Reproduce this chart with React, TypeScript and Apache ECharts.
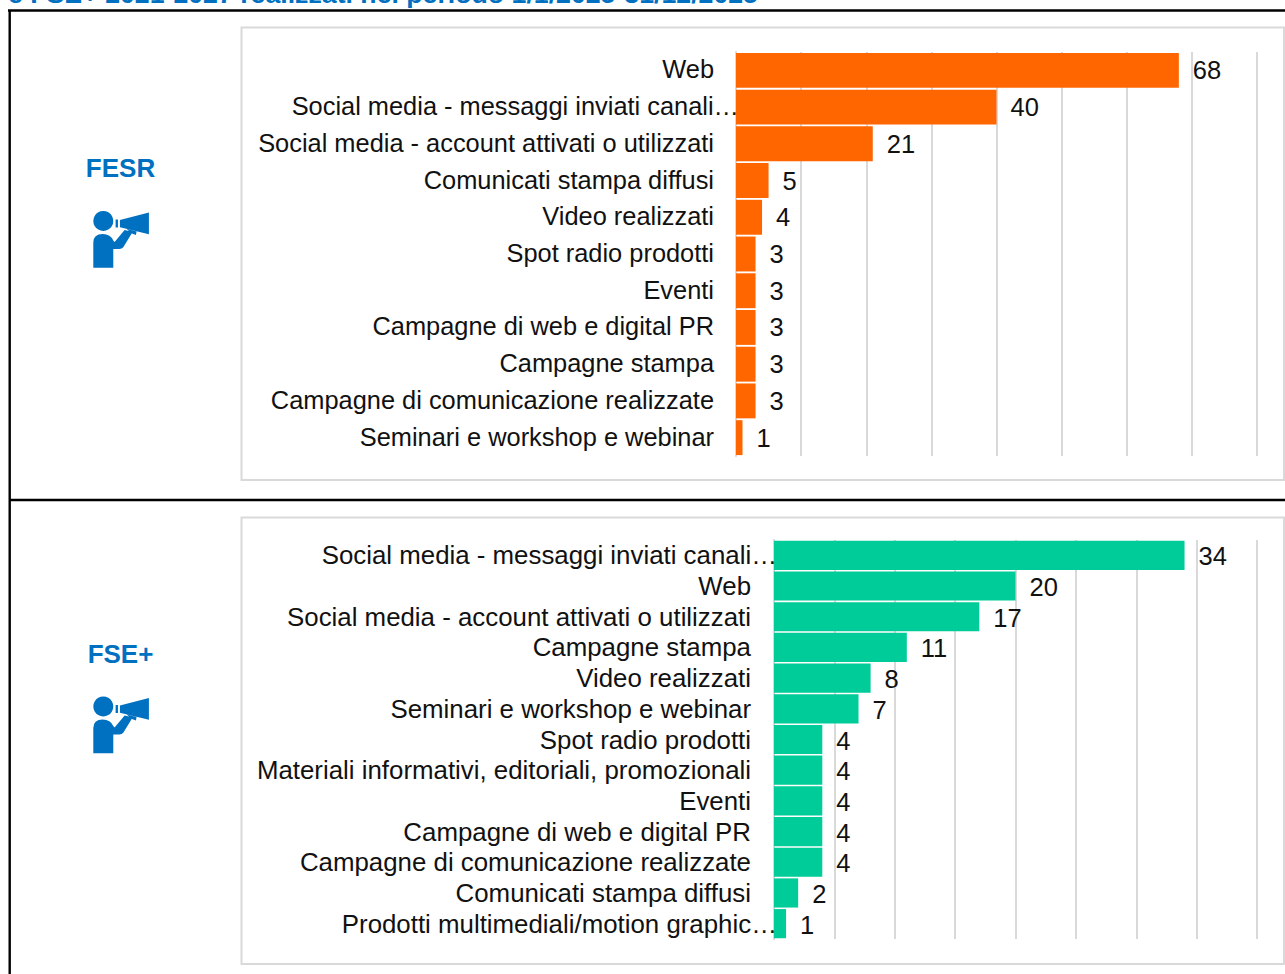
import React, { useEffect, useRef } from "react";
import * as echarts from "echarts";

const pageTitle = "e FSE+ 2021-2027 realizzati nel periodo 1/1/2025-31/12/2025";

const fesrCategories = [
  "Web",
  "Social media - messaggi inviati canali…",
  "Social media - account attivati o utilizzati",
  "Comunicati stampa diffusi",
  "Video realizzati",
  "Spot radio prodotti",
  "Eventi",
  "Campagne di web e digital PR",
  "Campagne stampa",
  "Campagne di comunicazione realizzate",
  "Seminari e workshop e webinar",
];
const fesrValues = [68, 40, 21, 5, 4, 3, 3, 3, 3, 3, 1];

const fseCategories = [
  "Social media - messaggi inviati canali…",
  "Web",
  "Social media - account attivati o utilizzati",
  "Campagne stampa",
  "Video realizzati",
  "Seminari e workshop e webinar",
  "Spot radio prodotti",
  "Materiali informativi, editoriali, promozionali",
  "Eventi",
  "Campagne di web e digital PR",
  "Campagne di comunicazione realizzate",
  "Comunicati stampa diffusi",
  "Prodotti multimediali/motion graphic…",
];
const fseValues = [34, 20, 17, 11, 8, 7, 4, 4, 4, 4, 4, 2, 1];

const BLUE = "#0070C0";
const GRID_GREY = "#D9D9D9";
const FONT = '"Liberation Sans", Arial, sans-serif';

// Person with a megaphone, in a 3x drawing space
const megaphoneIcon =
  "M130 213 a30 30 0 1 0 0.01 0 Z " +
  "M100 384 L100 308 Q100 282 128 282 Q152 282 160 302 L164 306 L194 270 L218 276 L190 322 Q186 327 178 327 L160 327 L160 384 Z " +
  "M167 239 L174 239 L174 263 L167 263 Z " +
  "M180 240 L267 218 L267 283 L180 262 Z " +
  "M200 267 L230 275 L228 285 L216 281 Z";

echarts.graphic.registerShape(
  "megaphone",
  echarts.graphic.extendPath(megaphoneIcon, {}) as any
);

// Long names end in "…" and run up to the axis; the rest keep a gap before it
const axisLabelFormatter = (value: string) =>
  value.endsWith("…") ? `{t|${value}}` : `{t|${value}}{g|}`;

const panel = (x: number, y: number, width: number, height: number) => ({
  type: "rect",
  shape: { x, y, width, height },
  style: { fill: "#fff", stroke: GRID_GREY, lineWidth: 2 },
  silent: true,
  z: -1,
});

const rule = (x1: number, y1: number, x2: number, y2: number) => ({
  type: "line",
  shape: { x1, y1, x2, y2 },
  style: { stroke: "#000", lineWidth: 2.4 },
  silent: true,
});

const heading = (text: string, y: number) => ({
  type: "text",
  x: 120.5,
  y,
  style: {
    text,
    fill: BLUE,
    font: `bold 26px ${FONT}`,
    align: "center",
    verticalAlign: "middle",
  },
});

const icon = (dy: number) => ({
  type: "megaphone",
  x: 60,
  y: 140 + dy,
  scaleX: 1 / 3,
  scaleY: 1 / 3,
  style: { fill: BLUE },
});

const yAxis = (
  gridIndex: number,
  data: string[],
  size: number,
  gap: number,
  padding: number[]
) => ({
  type: "category",
  gridIndex,
  data,
  inverse: true,
  axisTick: { show: false },
  axisLine: { show: true, lineStyle: { color: GRID_GREY, width: 2 } },
  axisLabel: {
    margin: -3,
    interval: 0,
    formatter: axisLabelFormatter,
    rich: {
      t: { fontFamily: FONT, fontSize: size, color: "#111", padding },
      g: { width: gap },
    },
  },
});

const xAxis = (gridIndex: number, max: number, interval: number) => ({
  type: "value",
  gridIndex,
  min: 0,
  max,
  interval,
  axisLabel: { show: false },
  axisTick: { show: false },
  axisLine: { show: false },
  splitLine: { show: true, lineStyle: { color: GRID_GREY, width: 2 } },
});

const barSeries = (
  index: number,
  values: number[],
  color: string,
  size: number,
  dy: number
) => ({
  type: "bar",
  xAxisIndex: index,
  yAxisIndex: index,
  data: values,
  barCategoryGap: "5%",
  itemStyle: { color },
  label: {
    show: true,
    position: "right",
    distance: 14,
    offset: [0, dy],
    fontFamily: FONT,
    fontSize: size,
    color: "#111",
  },
});

export default function App() {
  const ref = useRef<HTMLDivElement>(null);

  useEffect(() => {
    const chart = echarts.init(ref.current!, undefined, { renderer: "svg" });
    chart.setOption({
      animation: false,
      backgroundColor: "#fff",
      grid: [
        { left: 736, top: 52, width: 521, height: 404 },
        { left: 774, top: 540, width: 483, height: 399 },
      ],
      xAxis: [xAxis(0, 80, 10), xAxis(1, 40, 5)],
      yAxis: [
        yAxis(0, fesrCategories, 25.4, 25, [0, 0, 2, 0]),
        yAxis(1, fseCategories, 25.85, 26, [0, 0, 0, 0]),
      ],
      series: [
        barSeries(0, fesrValues, "#FF6600", 25.5, 0),
        barSeries(1, fseValues, "#00CC99", 25.5, 1),
      ],
      graphic: [
        panel(241.5, 27.5, 1042.5, 452.5),
        panel(241.5, 517.5, 1042.5, 446.5),
        rule(8, 10.5, 1285, 10.5),
        rule(9.7, 10, 9.7, 974),
        rule(10, 500, 1285, 500),
        {
          type: "text",
          x: 8,
          y: 7,
          style: {
            text: pageTitle,
            fill: BLUE,
            font: `bold 26.7px ${FONT}`,
            align: "left",
            verticalAlign: "bottom",
          },
        },
        heading("FESR", 168),
        heading("FSE+", 654),
        icon(0),
        icon(485.5),
      ],
    });
    return () => chart.dispose();
  }, []);

  return (
    <div
      ref={ref}
      style={{ position: "fixed", left: 0, top: 0, width: 1285, height: 974 }}
    />
  );
}
